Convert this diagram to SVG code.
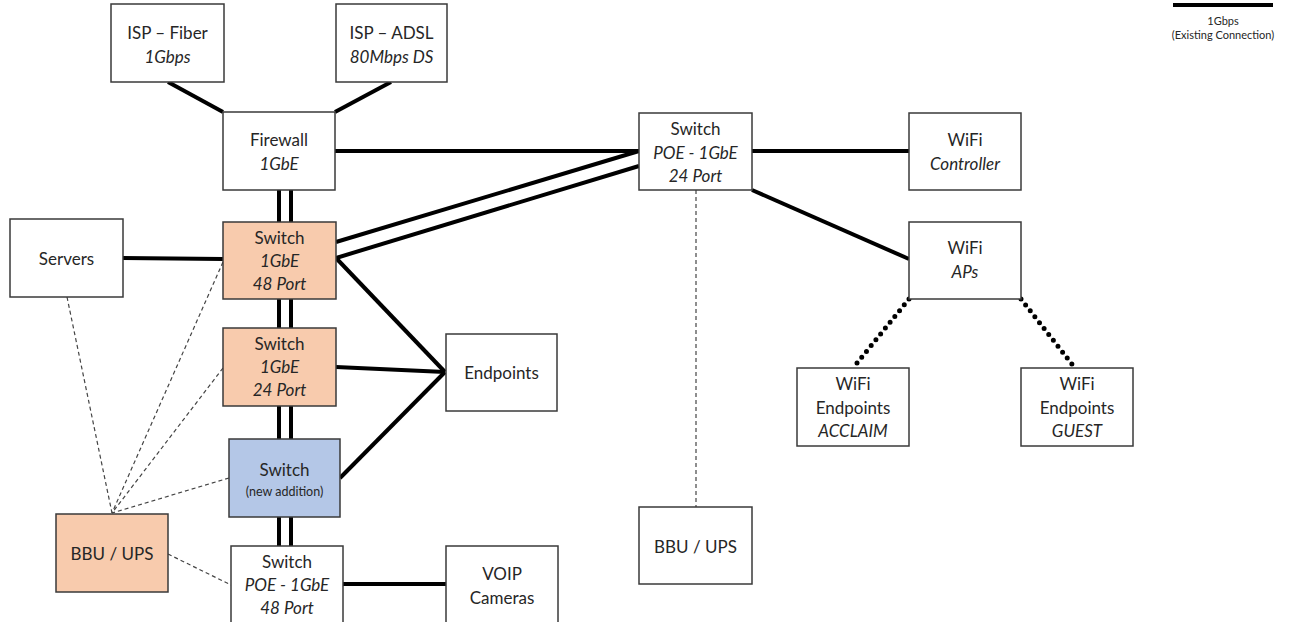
<svg xmlns="http://www.w3.org/2000/svg" width="1298" height="622" viewBox="0 0 1298 622">
<style>
.box{fill:#fff;stroke:#3a3a3a;stroke-width:1.5}
.org{fill:#F8CBAD}
.blu{fill:#B4C7E7}
text{font-family:Lato,"Open Sans","Liberation Sans",sans-serif;font-size:17px;fill:#262626;text-anchor:middle;dominant-baseline:central}
.i{font-style:italic}
.sm{font-size:12.5px}
.lg{font-size:11px}
.thick{stroke:#000;stroke-width:4;fill:none}
.dash{stroke:#444;stroke-width:1.2;stroke-dasharray:4 3;fill:none}
.dot{stroke:#000;stroke-width:5;stroke-dasharray:0 7.5;stroke-linecap:round;fill:none}
</style>
<rect width="1298" height="622" fill="#fff"/>
<g id="connectors">
<line class="thick" x1="168" y1="82" x2="223" y2="112"/>
<line class="thick" x1="391" y1="82" x2="335" y2="112"/>
<line class="thick" x1="335" y1="151" x2="639" y2="151"/>
<line class="thick" x1="279" y1="190" x2="279" y2="222"/>
<line class="thick" x1="291" y1="190" x2="291" y2="222"/>
<line class="thick" x1="279" y1="299" x2="279" y2="328"/>
<line class="thick" x1="291" y1="299" x2="291" y2="328"/>
<line class="thick" x1="279" y1="406" x2="279" y2="439"/>
<line class="thick" x1="291" y1="406" x2="291" y2="439"/>
<line class="thick" x1="279" y1="517" x2="279" y2="546"/>
<line class="thick" x1="291" y1="517" x2="291" y2="546"/>
<line class="thick" x1="123" y1="258" x2="223" y2="259"/>
<line class="thick" x1="336" y1="242" x2="639" y2="151"/>
<line class="thick" x1="336" y1="258" x2="639" y2="166"/>
<line class="thick" x1="336" y1="258" x2="445" y2="372"/>
<line class="thick" x1="336" y1="367" x2="445" y2="372"/>
<line class="thick" x1="340" y1="478" x2="445" y2="372"/>
<line class="thick" x1="343" y1="584" x2="446" y2="584"/>
<line class="thick" x1="752" y1="151" x2="909" y2="151"/>
<line class="thick" x1="752" y1="190" x2="909" y2="259"/>
<line class="dot" x1="909" y1="299" x2="853" y2="368"/>
<line class="dot" x1="1021" y1="299" x2="1075" y2="368"/>
<line class="dash" x1="696" y1="190" x2="696" y2="507"/>
<line class="dash" x1="67" y1="297" x2="112" y2="513"/>
<line class="dash" x1="223" y1="262" x2="112" y2="513"/>
<line class="dash" x1="223" y1="368" x2="112" y2="513"/>
<line class="dash" x1="229" y1="478" x2="112" y2="513"/>
<line class="dash" x1="168" y1="554" x2="231" y2="585"/>
<line stroke="#000" stroke-width="4" x1="1173" y1="5" x2="1273" y2="5"/>
</g>
<g id="legend">
<text class="lg" x="1223" y="20">1Gbps</text>
<text class="lg" x="1223" y="34">(Existing Connection)</text>
</g>
<g id="isp-fiber"><rect class="box" x="111" y="4" width="113" height="78"/><text x="167.5" y="32">ISP – Fiber</text><text class="i" x="167.5" y="56">1Gbps</text></g>
<g id="isp-adsl"><rect class="box" x="336" y="4" width="111" height="78"/><text x="391.5" y="32">ISP – ADSL</text><text class="i" x="391.5" y="56">80Mbps DS</text></g>
<g id="firewall"><rect class="box" x="223" y="112" width="112" height="78"/><text x="279" y="139">Firewall</text><text class="i" x="279" y="163">1GbE</text></g>
<g id="servers"><rect class="box" x="10" y="219" width="113" height="78"/><text x="66.5" y="258">Servers</text></g>
<g id="switch48"><rect class="box org" x="223" y="222" width="113" height="77"/><text x="279.5" y="237">Switch</text><text class="i" x="279.5" y="260">1GbE</text><text class="i" x="279.5" y="283">48 Port</text></g>
<g id="switch24"><rect class="box org" x="223" y="328" width="113" height="78"/><text x="279.5" y="343">Switch</text><text class="i" x="279.5" y="366">1GbE</text><text class="i" x="279.5" y="389">24 Port</text></g>
<g id="switch-new"><rect class="box blu" x="229" y="439" width="111" height="78"/><text x="284.5" y="469">Switch</text><text class="sm" x="284.5" y="491">(new addition)</text></g>
<g id="switch-poe48"><rect class="box" x="231" y="546" width="112" height="90"/><text x="287" y="561">Switch</text><text class="i" x="287" y="584">POE - 1GbE</text><text class="i" x="287" y="607">48 Port</text></g>
<g id="voip"><rect class="box" x="446" y="546" width="112" height="90"/><text x="502" y="573">VOIP</text><text x="502" y="597">Cameras</text></g>
<g id="bbu-left"><rect class="box org" x="56" y="514" width="112" height="78"/><text x="112" y="553">BBU / UPS</text></g>
<g id="endpoints"><rect class="box" x="446" y="334" width="111" height="77"/><text x="501.5" y="372">Endpoints</text></g>
<g id="switch-poe24"><rect class="box" x="639" y="113" width="113" height="77"/><text x="695.5" y="128">Switch</text><text class="i" x="695.5" y="152">POE - 1GbE</text><text class="i" x="695.5" y="175">24 Port</text></g>
<g id="bbu-right"><rect class="box" x="639" y="507" width="113" height="77"/><text x="695.5" y="546">BBU / UPS</text></g>
<g id="wifi-controller"><rect class="box" x="909" y="113" width="112" height="77"/><text x="965" y="139">WiFi</text><text class="i" x="965" y="163">Controller</text></g>
<g id="wifi-aps"><rect class="box" x="909" y="222" width="112" height="77"/><text x="965" y="247">WiFi</text><text class="i" x="965" y="271">APs</text></g>
<g id="wifi-acclaim"><rect class="box" x="797" y="368" width="112" height="78"/><text x="853" y="383">WiFi</text><text x="853" y="407">Endpoints</text><text class="i" x="853" y="430">ACCLAIM</text></g>
<g id="wifi-guest"><rect class="box" x="1021" y="368" width="112" height="78"/><text x="1077" y="383">WiFi</text><text x="1077" y="407">Endpoints</text><text class="i" x="1077" y="430">GUEST</text></g>
</svg>
